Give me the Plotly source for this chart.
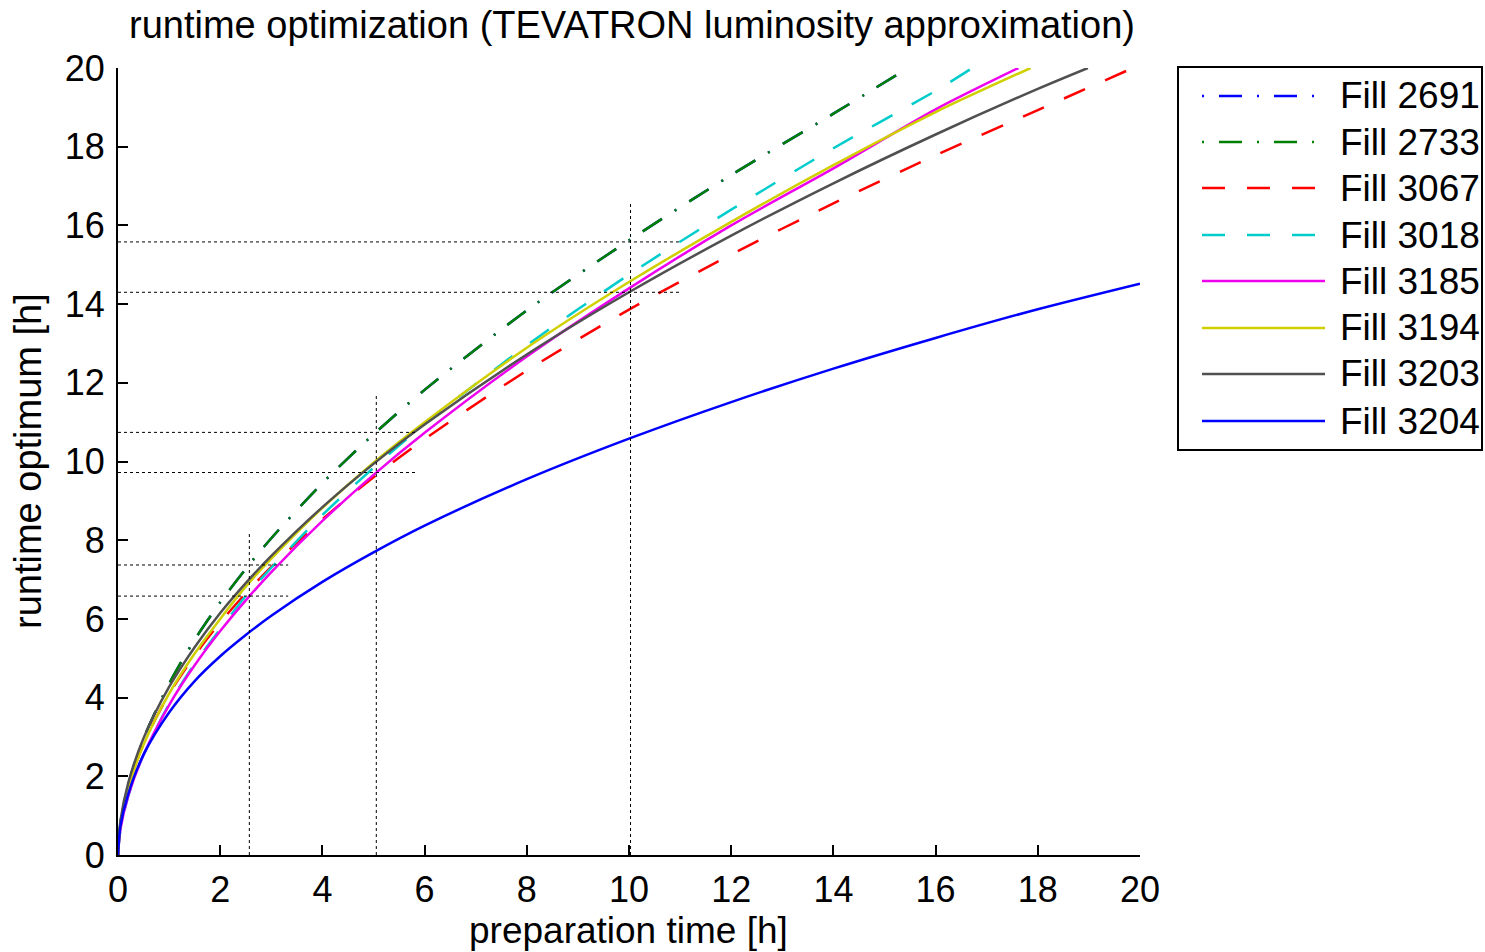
import plotly.graph_objects as go

# ---------------- data ----------------
fill_names = ["Fill 2691", "Fill 2733", "Fill 3067", "Fill 3018",
              "Fill 3185", "Fill 3194", "Fill 3203", "Fill 3204"]

# Fill 2691 and Fill 2733 overlap
x_2691 = [0, 0.05, 0.2, 0.5, 1, 1.5, 2, 2.5, 3, 4, 5, 6, 8, 10, 12, 14, 15.46]
y_2691 = [0, 0.82, 1.78, 2.96, 4.35, 5.47, 6.42, 7.27, 8.05, 9.45, 10.69, 11.82, 13.84, 15.62, 17.28, 18.84, 20.0]
x_2733 = [0, 0.05, 0.2, 0.5, 1, 1.5, 2, 2.5, 3, 4, 5, 6, 8, 10, 12, 14, 15.46]
y_2733 = [0, 0.82, 1.78, 2.96, 4.35, 5.47, 6.42, 7.27, 8.05, 9.45, 10.69, 11.82, 13.84, 15.62, 17.28, 18.84, 20.0]
x_3067 = [0, 0.05, 0.2, 0.5, 1, 1.5, 2, 2.5, 3, 4, 5, 6, 8, 10, 12, 14, 16, 18, 19.86]
y_3067 = [0, 0.84, 1.74, 2.83, 4.09, 5.07, 5.91, 6.65, 7.32, 8.53, 9.60, 10.57, 12.31, 13.86, 15.26, 16.56, 17.78, 18.93, 20.0]
x_3018 = [0, 0.05, 0.2, 0.5, 1, 1.5, 2, 2.5, 3, 4, 5, 6, 8, 10, 12, 14, 16, 16.72]
y_3018 = [0, 0.66, 1.49, 2.55, 3.83, 4.86, 5.74, 6.58, 7.30, 8.64, 9.84, 10.95, 12.95, 14.75, 16.40, 17.96, 19.42, 20.0]
x_3185 = [0, 0.05, 0.2, 0.5, 1, 1.5, 2, 2.5, 3, 4, 5, 6, 8, 10, 12, 14, 16, 17.62]
y_3185 = [0, 0.67, 1.50, 2.55, 3.81, 4.82, 5.69, 6.47, 7.19, 8.49, 9.66, 10.73, 12.67, 14.40, 16.00, 17.45, 18.95, 20.0]
x_3194 = [0, 0.05, 0.2, 0.5, 1, 1.5, 2, 2.5, 3, 4, 5, 6, 8, 10, 12, 14, 16, 17.86]
y_3194 = [0, 0.79, 1.69, 2.80, 4.10, 5.12, 6.00, 6.82, 7.53, 8.82, 9.97, 11.0, 12.89, 14.56, 16.09, 17.53, 18.88, 20.0]
x_3203 = [0, 0.05, 0.2, 0.5, 1, 1.5, 2, 2.5, 3, 4, 5, 6, 8, 10, 12, 14, 16, 18, 18.98]
y_3203 = [0, 0.89, 1.83, 2.97, 4.27, 5.28, 6.15, 6.91, 7.60, 8.84, 9.94, 10.94, 12.72, 14.30, 15.74, 17.07, 18.31, 19.47, 20.0]
x_3204 = [0, 0.05, 0.2, 0.5, 1, 1.5, 2, 2.5, 3, 4, 5, 6, 8, 10, 12, 14, 16, 18, 20]
y_3204 = [0, 0.75, 1.55, 2.55, 3.62, 4.42, 5.05, 5.59, 6.08, 6.94, 7.69, 8.37, 9.55, 10.58, 11.51, 12.36, 13.14, 13.87, 14.52]

# dotted guide lines
vline_x = [2.57, 5.055, 10.03]
vline_top = [8.18, 11.69, 16.57]
hline_y = [7.37, 6.58, 10.74, 9.72, 15.58, 14.30]
hline_end = [3.33, 3.33, 5.87, 5.85, 11.03, 11.03]

x_ticks = [0, 2, 4, 6, 8, 10, 12, 14, 16, 18, 20]
y_ticks = [0, 2, 4, 6, 8, 10, 12, 14, 16, 18, 20]

title_text = "runtime optimization (TEVATRON luminosity approximation)"
x_title = "preparation time [h]"
y_title = "runtime optimum [h]"

# ---------------- styles ----------------
series = [
    (x_2691, y_2691, "#0000FF", "2px,15px,23px,15px"),
    (x_2733, y_2733, "#008000", "2px,15px,23px,15px"),
    (x_3067, y_3067, "#FF0000", "23px,22px"),
    (x_3018, y_3018, "#00CCCC", "23px,22px"),
    (x_3185, y_3185, "#EE00EE", "solid"),
    (x_3194, y_3194, "#D0D000", "solid"),
    (x_3203, y_3203, "#505050", "solid"),
    (x_3204, y_3204, "#0000FF", "solid"),
]

FONT = "Liberation Sans, Arial, Helvetica, sans-serif"
W, H = 1485, 952
# plot area in screen pixels: x 118..1140, y 68..855
L, T = 118, 68
R = W - 1140
B = H - 855
PW, PH = W - L - R, H - T - B


def px_x(sx):
    return (sx - L) / PW


def px_y(sy):
    return (H - B - sy) / PH


fig = go.Figure()

for (xs, ys, col, dash), name in zip(series, fill_names):
    fig.add_trace(go.Scatter(
        x=xs, y=ys, mode="lines", name=name,
        line=dict(color=col, width=2.5, dash=dash, shape="spline", smoothing=0.8),
        showlegend=False, hoverinfo="skip"))

for xv, top in zip(vline_x, vline_top):
    fig.add_trace(go.Scatter(x=[xv, xv], y=[0, top], mode="lines",
                             line=dict(color="black", width=1, dash="3px,3px"),
                             showlegend=False, hoverinfo="skip"))
for yv, xe in zip(hline_y, hline_end):
    fig.add_trace(go.Scatter(x=[0, xe], y=[yv, yv], mode="lines",
                             line=dict(color="black", width=1, dash="3px,3px"),
                             showlegend=False, hoverinfo="skip"))

# ---------------- custom legend (matlab style) ----------------
shapes = [dict(type="rect", xref="paper", yref="paper",
               x0=px_x(1178), x1=px_x(1482), y0=px_y(450), y1=px_y(67),
               line=dict(color="black", width=2), fillcolor="white", layer="above")]
annotations = []
row_y = [96, 142, 188, 235, 281, 328, 374, 421]
for (xs, ys, col, dash), name, ry in zip(series, fill_names, row_y):
    shapes.append(dict(type="line", xref="paper", yref="paper",
                       x0=px_x(1202), x1=px_x(1325), y0=px_y(ry), y1=px_y(ry),
                       line=dict(color=col, width=2.5, dash=dash), layer="above"))
    annotations.append(dict(xref="paper", yref="paper", x=px_x(1338), y=px_y(ry),
                            text=name, showarrow=False, xanchor="left", yanchor="middle",
                            font=dict(family=FONT, size=37, color="black")))

annotations.append(dict(xref="paper", yref="paper", x=px_x(628), y=px_y(930), text=x_title,
                        showarrow=False, xanchor="center", yanchor="middle",
                        font=dict(family=FONT, size=37, color="black")))
annotations.append(dict(xref="paper", yref="paper", x=px_x(28), y=px_y(461), text=y_title,
                        showarrow=False, xanchor="center", yanchor="middle", textangle=-90,
                        font=dict(family=FONT, size=38, color="black")))

axis_common = dict(showgrid=False, zeroline=False, showline=True, linecolor="black",
                   linewidth=2, ticks="inside", ticklen=10, tickwidth=2, tickcolor="black",
                   tickfont=dict(family=FONT, size=36, color="black"), mirror=False)

fig.update_layout(
    width=W, height=H,
    margin=dict(l=L, r=R, t=T, b=B, autoexpand=False),
    paper_bgcolor="white", plot_bgcolor="white",
    title=dict(text=title_text, x=632 / W, xref="container",
               y=1 - 25 / H, yref="container", xanchor="center", yanchor="middle",
               font=dict(family=FONT, size=38, color="black")),
    xaxis=dict(range=[0, 20], tickvals=x_ticks, ticktext=[str(v) for v in x_ticks],
               ticklabelstandoff=2, **axis_common),
    yaxis=dict(range=[0, 20], tickvals=y_ticks, ticktext=[str(v) for v in y_ticks],
               ticklabelstandoff=4, **axis_common),
    shapes=shapes, annotations=annotations,
)

fig.write_html("out.html", config={"displayModeBar": False},
               post_script="document.body.style.margin='0px';document.body.style.overflow='hidden';")
